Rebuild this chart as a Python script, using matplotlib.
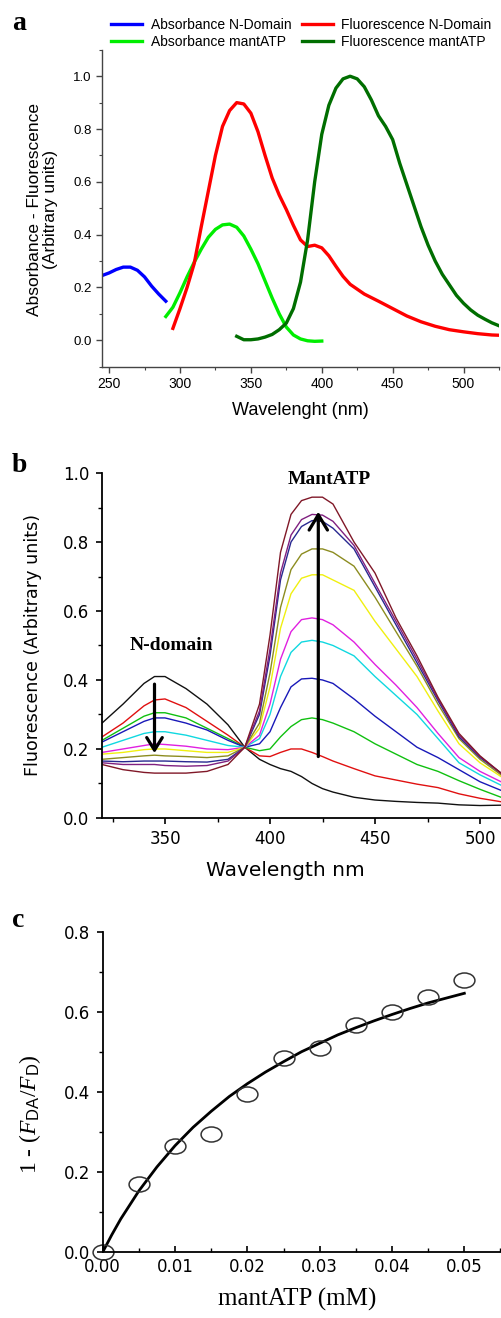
import matplotlib
matplotlib.use("Agg")
import matplotlib.pyplot as plt
from matplotlib.ticker import MultipleLocator, FormatStrFormatter
from matplotlib.path import Path
from matplotlib.transforms import Affine2D

plt.rcParams["mathtext.fontset"] = "custom"
plt.rcParams["mathtext.rm"] = "Liberation Serif"
plt.rcParams["mathtext.it"] = "Liberation Serif:italic"
plt.rcParams["mathtext.sf"] = "Liberation Sans"

# ---------- panel a: absorbance / fluorescence spectra ----------
abs_nd_wl = [245, 250, 255, 260, 265, 270, 275, 280, 285, 290]
abs_nd = [0.245, 0.255, 0.268, 0.277, 0.277, 0.265, 0.24, 0.205, 0.175, 0.148]

abs_mant_wl = [290, 295, 300, 305, 310, 315, 320, 325, 330, 335, 340, 345,
               350, 355, 360, 365, 370, 375, 380, 385, 390, 395, 400]
abs_mant = [0.09, 0.125, 0.18, 0.24, 0.295, 0.345, 0.39, 0.42, 0.437, 0.44,
            0.428, 0.395, 0.345, 0.29, 0.225, 0.16, 0.1, 0.05, 0.02, 0.005,
            -0.002, -0.004, -0.003]

fl_nd_wl = [295, 300, 305, 310, 315, 320, 325, 330, 335, 340, 345, 350, 355,
            360, 365, 370, 375, 380, 385, 390, 395, 400, 405, 410, 415, 420,
            430, 440, 450, 460, 470, 480, 490, 500, 510, 520, 525]
fl_nd = [0.045, 0.12, 0.2, 0.29, 0.43, 0.565, 0.7, 0.81, 0.87, 0.9, 0.895,
         0.86, 0.79, 0.7, 0.615, 0.55, 0.495, 0.435, 0.38, 0.355, 0.36, 0.35,
         0.32, 0.28, 0.242, 0.212, 0.175, 0.148, 0.12, 0.092, 0.07, 0.053, 0.04,
         0.032, 0.025, 0.02, 0.019]

fl_mant_wl = [340, 345, 350, 355, 360, 365, 370, 375, 380, 385, 390, 395,
              400, 405, 410, 415, 420, 425, 430, 435, 440, 445, 450, 455,
              460, 465, 470, 475, 480, 485, 490, 495, 500, 505, 510, 515,
              520, 525]
fl_mant = [0.015, 0.002, 0.002, 0.005, 0.012, 0.022, 0.04, 0.065, 0.12, 0.22,
           0.38, 0.6, 0.78, 0.89, 0.955, 0.99, 1.0, 0.99, 0.96, 0.91, 0.85,
           0.81, 0.76, 0.67, 0.59, 0.51, 0.43, 0.36, 0.3, 0.25, 0.21, 0.17,
           0.14, 0.115, 0.095, 0.08, 0.066, 0.055]

# ---------- panel b: titration emission spectra ----------
wl_b = [320, 330, 340, 345, 350, 360, 370, 380, 388, 395, 400, 405, 410,
        415, 420, 425, 430, 440, 450, 460, 470, 480, 490, 500, 510]
f_black = [0.275, 0.33, 0.39, 0.41, 0.41, 0.375, 0.33, 0.27, 0.205, 0.17,
           0.155, 0.143, 0.135, 0.12, 0.1, 0.085, 0.075, 0.06, 0.052, 0.048,
           0.045, 0.043, 0.038, 0.036, 0.037]
f_red = [0.235, 0.275, 0.325, 0.342, 0.345, 0.32, 0.28, 0.24, 0.205, 0.18,
         0.178, 0.19, 0.2, 0.2, 0.19, 0.178, 0.165, 0.143, 0.122, 0.11,
         0.098, 0.088, 0.07, 0.057, 0.047]
f_green = [0.225, 0.26, 0.295, 0.305, 0.305, 0.29, 0.26, 0.23, 0.205, 0.195,
           0.2, 0.235, 0.265, 0.285, 0.29, 0.285, 0.275, 0.25, 0.215, 0.185,
           0.155, 0.135, 0.108, 0.083, 0.06]
f_blue = [0.22, 0.25, 0.28, 0.29, 0.29, 0.275, 0.255, 0.225, 0.205, 0.215,
          0.25, 0.32, 0.38, 0.403, 0.405, 0.4, 0.39, 0.345, 0.295, 0.25,
          0.205, 0.175, 0.14, 0.105, 0.08]
f_cyan = [0.205, 0.225, 0.245, 0.25, 0.25, 0.24, 0.225, 0.21, 0.205, 0.23,
          0.3, 0.41, 0.48, 0.51, 0.515, 0.51, 0.5, 0.47, 0.41, 0.355, 0.3,
          0.23, 0.16, 0.125, 0.095]
f_magenta = [0.19, 0.2, 0.21, 0.215, 0.213, 0.208, 0.2, 0.198, 0.205, 0.24,
             0.33, 0.46, 0.54, 0.575, 0.58, 0.575, 0.56, 0.51, 0.445, 0.385,
             0.32, 0.245, 0.175, 0.135, 0.105]
f_yellow = [0.185, 0.19, 0.198, 0.2, 0.2, 0.195, 0.19, 0.19, 0.205, 0.26,
            0.38, 0.55, 0.65, 0.695, 0.705, 0.705, 0.69, 0.66, 0.57, 0.49,
            0.41, 0.31, 0.215, 0.16, 0.12]
f_olive = [0.17, 0.175, 0.18, 0.182, 0.18, 0.178, 0.175, 0.18, 0.205, 0.275,
           0.42, 0.61, 0.72, 0.765, 0.78, 0.78, 0.77, 0.73, 0.64, 0.54, 0.44,
           0.33, 0.23, 0.17, 0.125]
f_navy = [0.165, 0.163, 0.165, 0.165, 0.165, 0.163, 0.162, 0.17, 0.205, 0.3,
          0.47, 0.69, 0.8, 0.845, 0.862, 0.86, 0.84, 0.78, 0.67, 0.56, 0.45,
          0.34, 0.235, 0.175, 0.13]
f_purple = [0.16, 0.155, 0.155, 0.155, 0.152, 0.15, 0.152, 0.165, 0.205,
            0.31, 0.49, 0.71, 0.82, 0.865, 0.88, 0.878, 0.86, 0.79, 0.68,
            0.57, 0.46, 0.345, 0.24, 0.178, 0.13]
f_maroon = [0.155, 0.14, 0.132, 0.13, 0.13, 0.13, 0.135, 0.155, 0.205, 0.33,
            0.53, 0.77, 0.88, 0.92, 0.93, 0.93, 0.91, 0.8, 0.71, 0.58, 0.47,
            0.35, 0.245, 0.18, 0.13]
b_colors = ["#111111", "#e01010", "#10c010", "#1818b8", "#10d8e0", "#e020e0",
            "#f0f010", "#8c8c20", "#282890", "#802080", "#801828"]

# ---------- panel c: binding curve ----------
mant_conc = [0.0, 0.005, 0.01, 0.015, 0.02, 0.025, 0.03, 0.035, 0.04, 0.045, 0.05]
quench = [0.0, 0.17, 0.265, 0.295, 0.395, 0.485, 0.51, 0.567, 0.6, 0.638, 0.68]
fit_x = [0.0, 0.00125, 0.0025, 0.005, 0.0075, 0.01, 0.0125, 0.015, 0.0175,
         0.02, 0.0225, 0.025, 0.0275, 0.03, 0.0325, 0.035, 0.0375, 0.04,
         0.0425, 0.045, 0.0475, 0.05]
fit_y = [0.0, 0.043, 0.083, 0.153, 0.213, 0.266, 0.312, 0.352, 0.389, 0.421,
         0.45, 0.476, 0.501, 0.522, 0.543, 0.561, 0.578, 0.594, 0.609, 0.623,
         0.635, 0.647]

fig = plt.figure(figsize=(5.01, 13.18), dpi=100)

# ---- a ----
ax_a = fig.add_axes([0.2036, 0.7218, 0.7924, 0.2404])
l1, = ax_a.plot(abs_nd_wl, abs_nd, color="#0000ff", lw=2.4, label="Absorbance N-Domain")
l2, = ax_a.plot(abs_mant_wl, abs_mant, color="#00ee00", lw=2.4, label="Absorbance mantATP")
l3, = ax_a.plot(fl_nd_wl, fl_nd, color="#ff0000", lw=2.4, label="Fluorescence N-Domain")
l4, = ax_a.plot(fl_mant_wl, fl_mant, color="#006e00", lw=2.4, label="Fluorescence mantATP")
ax_a.set_xlim(245, 525)
ax_a.set_ylim(-0.1, 1.1)
ax_a.xaxis.set_major_locator(MultipleLocator(50))
ax_a.xaxis.set_minor_locator(MultipleLocator(25))
ax_a.yaxis.set_major_locator(MultipleLocator(0.2))
ax_a.yaxis.set_minor_locator(MultipleLocator(0.1))
ax_a.yaxis.set_major_formatter(FormatStrFormatter("%.1f"))
for s in ["top", "right"]:
    ax_a.spines[s].set_visible(False)
for s in ["left", "bottom"]:
    ax_a.spines[s].set_color("#444444")
    ax_a.spines[s].set_linewidth(1.0)
ax_a.tick_params(which="both", direction="out", colors="#444444", labelcolor="black",
                 labelfontfamily="Liberation Sans")
ax_a.tick_params(which="major", length=4, width=1.0, pad=3.5)
ax_a.tick_params(which="minor", length=2.5, width=0.8)
ax_a.tick_params(axis="x", labelsize=10)
ax_a.tick_params(axis="y", labelsize=9.5)
ax_a.set_xlabel("Wavelenght (nm)", fontsize=13, family="Liberation Sans")
ax_a.xaxis.set_label_coords(0.5, -0.11)
ax_a.set_ylabel("Absorbance - Fluorescence\n(Arbitrary units)", fontsize=12.5,
                family="Liberation Sans", linespacing=1.1)
ax_a.yaxis.set_label_coords(-0.11, 0.495)
fig.legend(handles=[l1, l2, l3, l4], ncol=2, loc="upper left",
           bbox_to_anchor=(0.222, 0.9865), frameon=False, borderpad=0,
           borderaxespad=0, handlelength=2.25, handletextpad=0.6,
           columnspacing=0.75, labelspacing=0.2,
           prop={"family": "Liberation Sans", "size": 10})

# ---- b ----
ax_b = fig.add_axes([0.2036, 0.3794, 0.7964, 0.2617])
for vals, col in zip([f_black, f_red, f_green, f_blue, f_cyan, f_magenta,
                      f_yellow, f_olive, f_navy, f_purple, f_maroon], b_colors):
    ax_b.plot(wl_b, vals, color=col, lw=1.0)
ax_b.set_xlim(320, 510)
ax_b.set_ylim(0, 1.0)
ax_b.xaxis.set_major_locator(MultipleLocator(50))
ax_b.xaxis.set_minor_locator(MultipleLocator(25))
ax_b.yaxis.set_major_locator(MultipleLocator(0.2))
ax_b.yaxis.set_minor_locator(MultipleLocator(0.1))
ax_b.yaxis.set_major_formatter(FormatStrFormatter("%.1f"))
for s in ["top", "right"]:
    ax_b.spines[s].set_visible(False)
for s in ["left", "bottom"]:
    ax_b.spines[s].set_linewidth(1.3)
ax_b.tick_params(which="both", direction="out", labelsize=12)
ax_b.tick_params(which="major", length=4, width=1.2, pad=5)
ax_b.tick_params(which="minor", length=3, width=1.0)
ax_b.set_xlabel("Wavelength nm", fontsize=14.5)
ax_b.xaxis.set_label_coords(0.46, -0.125)
ax_b.set_ylabel("Fluorescence (Arbitrary units)", fontsize=12.6)
ax_b.yaxis.set_label_coords(-0.15, 0.5)
ax_b.annotate("", xy=(345, 0.188), xytext=(345, 0.388),
              arrowprops=dict(arrowstyle="->,head_length=0.45,head_width=0.28",
                              lw=2.3, color="black", mutation_scale=20,
                              shrinkA=0, shrinkB=0))
ax_b.annotate("", xy=(423, 0.888), xytext=(423, 0.178),
              arrowprops=dict(arrowstyle="->,head_length=0.55,head_width=0.33",
                              lw=2.3, color="black", mutation_scale=20,
                              shrinkA=0, shrinkB=0))
ax_b.text(353, 0.50, "N-domain", ha="center", va="center", fontsize=14,
          fontweight="bold", family="Liberation Serif")
ax_b.text(428, 0.98, "MantATP", ha="center", va="center", fontsize=14,
          fontweight="bold", family="Liberation Serif")

# ---- c ----
ax_c = fig.add_axes([0.205, 0.05, 0.794, 0.2428])
ellipse = Path.unit_circle().transformed(Affine2D().scale(1.0, 0.72))
ax_c.plot(fit_x, fit_y, color="black", lw=2.0)
ax_c.plot(mant_conc, quench, linestyle="none", marker=ellipse, markersize=15,
          markerfacecolor="none", markeredgecolor="#333333", markeredgewidth=1.1,
          clip_on=False)
ax_c.set_xlim(0, 0.055)
ax_c.set_ylim(0, 0.8)
ax_c.xaxis.set_major_locator(MultipleLocator(0.01))
ax_c.xaxis.set_minor_locator(MultipleLocator(0.005))
ax_c.yaxis.set_major_locator(MultipleLocator(0.2))
ax_c.yaxis.set_minor_locator(MultipleLocator(0.1))
ax_c.xaxis.set_major_formatter(FormatStrFormatter("%.2f"))
ax_c.yaxis.set_major_formatter(FormatStrFormatter("%.1f"))
for s in ["top", "right"]:
    ax_c.spines[s].set_visible(False)
for s in ["left", "bottom"]:
    ax_c.spines[s].set_linewidth(1.3)
ax_c.tick_params(which="both", labelsize=12)
ax_c.tick_params(axis="y", which="major", direction="out", length=4, width=1.2, pad=5)
ax_c.tick_params(axis="y", which="minor", direction="out", length=3, width=1.0)
ax_c.tick_params(axis="x", which="major", direction="in", length=4, width=1.2, pad=4)
ax_c.tick_params(axis="x", which="minor", direction="in", length=3, width=1.0)
ax_c.set_xlabel("mantATP (mM)", fontsize=18, family="Liberation Serif")
ax_c.xaxis.set_label_coords(0.49, -0.112)
ax_c.set_ylabel(r"1 - ($F_{\mathsf{DA}}$/$F_{\mathsf{D}}$)", fontsize=17,
                family="Liberation Serif")
ax_c.yaxis.set_label_coords(-0.15, 0.43)

# panel letters
for lab, yy in [("a", 0.977), ("b", 0.642), ("c", 0.2967)]:
    fig.text(0.024, yy, lab, fontsize=20, fontweight="bold",
             family="Liberation Serif", va="baseline")

fig.savefig("out.png", dpi=100)
